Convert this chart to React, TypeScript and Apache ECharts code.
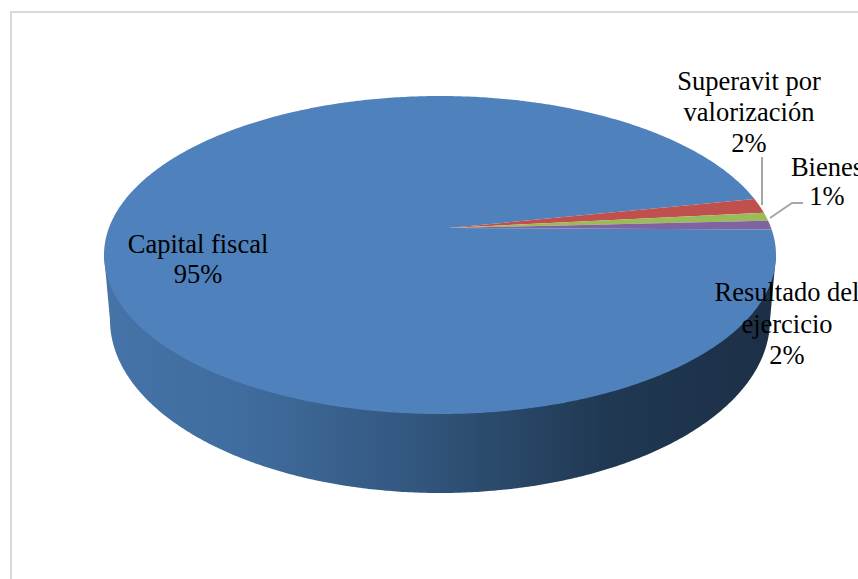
import React, { useEffect, useRef } from "react";
import * as echarts from "echarts";

const categories = ["Capital fiscal", "Superavit por\nvalorización", "Bienes", "Resultado del\nejercicio"];
const shares = [94.7, 2.4, 1.4, 1.5];
const colors = ["#4f81bd", "#c0504d", "#9bbb59", "#8064a2"];

// Projection of the tilted 3D pie
const TOP = { cx: 440, cy: 255, a: 336, b: 159 };
const BOTTOM = { cx: 440, cy: 320, a: 330, b: 173 };
const APEX = { x: 448, y: 228 };
const START_DEG = -20.6; // where the small slices begin
const DEG_PER_SHARE = 2.15; // foreshortening of the far-right edge

const LABEL_LAYOUT = [
  { x: 198, y: 244, lh: 30 },
  { x: 749, y: 81, lh: 31 },
  { x: 827, y: 167, lh: 29 },
  { x: 787, y: 292, lh: 31.5 },
];
const LEADERS: number[][][] = [
  [],
  [[762, 157], [762, 205]],
  [[770, 218], [792, 203], [803, 203]],
  [],
];

function ellipsePoint(e: typeof TOP, deg: number) {
  const t = (deg * Math.PI) / 180;
  return [e.cx + e.a * Math.cos(t), e.cy + e.b * Math.sin(t)];
}
function arc(e: typeof TOP, from: number, to: number) {
  const n = Math.max(2, Math.ceil(Math.abs(to - from) * 2));
  const pts: number[][] = [];
  for (let i = 0; i <= n; i++) pts.push(ellipsePoint(e, from + ((to - from) * i) / n));
  return pts;
}
// Angular range per slice: the small ones follow the shares, Capital fiscal takes the rest.
function sliceRange(index: number): [number, number] {
  let smallEnd = START_DEG;
  for (let i = 1; i < shares.length; i++) smallEnd += shares[i] * DEG_PER_SHARE;
  if (index === 0) return [smallEnd, START_DEG + 360];
  let from = START_DEG;
  for (let i = 1; i < index; i++) from += shares[i] * DEG_PER_SHARE;
  return [from, from + shares[index] * DEG_PER_SHARE];
}

const FONT = '"Liberation Serif", "Times New Roman", serif';

function renderItem(params: any, api: any) {
  const i = params.dataIndex;
  const [from, to] = sliceRange(i);
  const children: any[] = [];
  if (i === 0) {
    const sidePts = [[TOP.cx - TOP.a, TOP.cy], ...arc(BOTTOM, 180, 0), [TOP.cx + TOP.a, TOP.cy]];
    children.push({
      type: "polygon",
      shape: { points: sidePts },
      style: {
        fill: new echarts.graphic.LinearGradient(0, 0, 1, 0, [
          { offset: 0, color: "#4673a8" },
          { offset: 0.2, color: "#406d9f" },
          { offset: 0.45, color: "#335880" },
          { offset: 0.75, color: "#203852" },
          { offset: 1, color: "#1c2f46" },
        ]),
      },
    });
  }
  children.push({
    type: "polygon",
    shape: { points: [[APEX.x, APEX.y], ...arc(TOP, from, to)] },
    style: { fill: colors[i] },
  });
  if (LEADERS[i].length) {
    children.push({
      type: "polyline",
      shape: { points: LEADERS[i] },
      style: { stroke: "#a6a6a6", lineWidth: 2, fill: "none" },
    });
  }
  const layout = LABEL_LAYOUT[i];
  const lines = [...categories[i].split("\n"), `${Math.round(api.value(0))}%`];
  lines.forEach((line, k) => {
    children.push({
      type: "text",
      x: layout.x,
      y: layout.y + k * layout.lh,
      style: {
        text: line,
        fill: "#000000",
        font: `26.5px ${FONT}`,
        align: "center",
        verticalAlign: "middle",
      },
    });
  });
  return { type: "group", children };
}

export default function App() {
  const ref = useRef<HTMLDivElement>(null);
  useEffect(() => {
    const chart = echarts.init(ref.current!, undefined, { renderer: "svg" });
    chart.setOption({
      animation: false,
      backgroundColor: "#ffffff",
      graphic: [
        {
          type: "rect",
          shape: { x: 11, y: 12, width: 900, height: 620 },
          style: { fill: "none", stroke: "#d9d9d9", lineWidth: 2 },
          silent: true,
        },
      ],
      series: [
        {
          type: "custom",
          coordinateSystem: "none",
          renderItem,
          clip: false,
          silent: true,
          data: shares.map((v, i) => ({ name: categories[i], value: [v] })),
        },
      ],
    });
    return () => chart.dispose();
  }, []);
  return (
    <div
      ref={ref}
      style={{ position: "fixed", left: 0, top: 0, width: 858, height: 579, overflow: "hidden" }}
    />
  );
}
